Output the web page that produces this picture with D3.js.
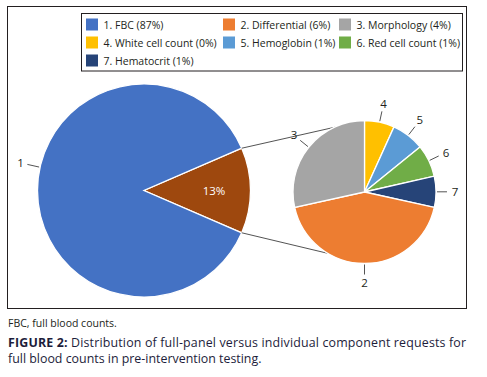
<!DOCTYPE html>
<html>
<head>
<meta charset="utf-8">
<script src="https://cdn.jsdelivr.net/npm/d3@7"></script>
<style>
  body { margin: 0; background: #fff; }
  svg { display: block; }
  text { font-family: "Open Sans", "Noto Sans", sans-serif; }
</style>
</head>
<body>
<svg id="chart" width="487" height="377"></svg>
<script>
// categories and values (share of all FBC requests, %)
var categories = ['FBC', 'Differential', 'Morphology', 'White cell count', 'Hemoglobin', 'Red cell count', 'Hematocrit']
var sliceLabels = ['1', '2', '3', '4', '5', '6', '7']
var legendPercents = ['87%', '6%', '4%', '0%', '1%', '1%', '1%']
var values = [87, 5.6, 3.7, 0.88, 0.96, 0.95, 0.91]
var colors = ['#4472C4', '#ED7D31', '#A5A5A5', '#FFC000', '#5B9BD5', '#70AD47', '#264478']
// order of the slices in the small pie, clockwise from 12 o'clock
var subOrder = [3, 4, 5, 6, 1, 2]
var otherLabel = '13%'
var otherColor = '#9E480E'

var svg = d3.select('#chart')

// outer frame
svg.append('rect')
  .attr('x', 7.5).attr('y', 6.5)
  .attr('width', 459).attr('height', 302)
  .attr('fill', 'none').attr('stroke', '#231f20').attr('stroke-width', 1)

// legend
var legend = svg.append('g').attr('class', 'legend')
legend.append('rect')
  .attr('x', 81.5).attr('y', 13.5)
  .attr('width', 381).attr('height', 57.5)
  .attr('fill', 'none').attr('stroke', '#231f20').attr('stroke-width', 1)

var colX = [86, 223, 339]
var items = legend.selectAll('.item')
  .data(categories.map(function(c, i){ return {name: c, i: i} }))
  .enter().append('g')
  .attr('class', 'item')
  .attr('transform', function(d){
    return 'translate(' + colX[d.i % 3] + ',' + (24.5 + Math.floor(d.i / 3) * 18) + ')'
  })
items.append('rect')
  .attr('x', 0).attr('y', -6).attr('width', 12).attr('height', 12)
  .attr('fill', function(d){ return colors[d.i] })
items.append('text')
  .attr('x', 17.5).attr('y', 4)
  .attr('font-size', 10.5).attr('fill', '#231f20')
  .text(function(d){ return sliceLabels[d.i] + '. ' + d.name + ' (' + legendPercents[d.i] + ')' })

// main pie: FBC vs the rest
var mainCx = 144, mainCy = 190.5, mainR = 106.5
var restTotal = d3.sum(subOrder, function(i){ return values[i] })
var total = values[0] + restTotal
var half = Math.PI * restTotal / total
var mainPie = d3.pie().sort(null).value(function(d){ return d.v })
  .startAngle(Math.PI / 2 - half).endAngle(Math.PI / 2 - half + 2 * Math.PI)
var mainArcs = mainPie([{v: restTotal, c: otherColor}, {v: values[0], c: colors[0]}])
var arcMain = d3.arc().innerRadius(0).outerRadius(mainR)

var gMain = svg.append('g').attr('transform', 'translate(' + mainCx + ',' + mainCy + ')')
gMain.selectAll('path').data(mainArcs).enter().append('path')
  .attr('d', arcMain)
  .attr('fill', function(d){ return d.data.c })
  .attr('stroke', '#fff').attr('stroke-width', 1.3)

// 13% label inside the split slice
var innerArc = d3.arc().innerRadius(70).outerRadius(70)
gMain.append('text')
  .attr('transform', 'translate(' + innerArc.centroid(mainArcs[0]) + ')')
  .attr('text-anchor', 'middle').attr('dy', '0.35em')
  .attr('font-size', 11.5).attr('fill', '#fff')
  .text(otherLabel)

// label "1" with its leader line
var a1 = (mainArcs[1].startAngle + mainArcs[1].endAngle) / 2 + 0.22
function polar(r, a){ return [r * Math.sin(a), -r * Math.cos(a)] }
gMain.append('line')
  .attr('x1', polar(mainR + 1, a1)[0]).attr('y1', polar(mainR + 1, a1)[1])
  .attr('x2', polar(mainR + 13, a1)[0]).attr('y2', polar(mainR + 13, a1)[1])
  .attr('stroke', '#404040').attr('stroke-width', 0.9)
gMain.append('text')
  .attr('x', polar(mainR + 20, a1)[0]).attr('y', polar(mainR + 20, a1)[1])
  .attr('text-anchor', 'middle').attr('dy', '0.35em')
  .attr('font-size', 11.5).attr('fill', '#231f20')
  .text(sliceLabels[0])

// secondary pie
var subCx = 364.5, subCy = 192, subR = 71.5
var subPie = d3.pie().sort(null).value(function(i){ return values[i] })
var subArcs = subPie(subOrder)
var arcSub = d3.arc().innerRadius(0).outerRadius(subR)

// connector lines from the split slice to the small pie
var topA = 0, botA = Math.PI * 1.172
svg.append('line')
  .attr('x1', mainCx + polar(mainR, mainArcs[0].startAngle)[0])
  .attr('y1', mainCy + polar(mainR, mainArcs[0].startAngle)[1])
  .attr('x2', subCx + polar(subR, topA)[0])
  .attr('y2', subCy + polar(subR, topA)[1])
  .attr('stroke', '#404040').attr('stroke-width', 0.9)
svg.append('line')
  .attr('x1', mainCx + polar(mainR, mainArcs[0].endAngle)[0])
  .attr('y1', mainCy + polar(mainR, mainArcs[0].endAngle)[1])
  .attr('x2', subCx + polar(subR, botA)[0])
  .attr('y2', subCy + polar(subR, botA)[1])
  .attr('stroke', '#404040').attr('stroke-width', 0.9)

var gSub = svg.append('g').attr('transform', 'translate(' + subCx + ',' + subCy + ')')
gSub.selectAll('path').data(subArcs).enter().append('path')
  .attr('d', arcSub)
  .attr('fill', function(d){ return colors[d.data] })
  .attr('stroke', '#fff').attr('stroke-width', 1.3)

var subLab = gSub.selectAll('.lab').data(subArcs).enter().append('g').attr('class', 'lab')
subLab.append('line')
  .attr('x1', function(d){ return polar(subR + 1, (d.startAngle + d.endAngle) / 2)[0] })
  .attr('y1', function(d){ return polar(subR + 1, (d.startAngle + d.endAngle) / 2)[1] })
  .attr('x2', function(d){ return polar(subR + 11, (d.startAngle + d.endAngle) / 2)[0] })
  .attr('y2', function(d){ return polar(subR + 11, (d.startAngle + d.endAngle) / 2)[1] })
  .attr('stroke', '#404040').attr('stroke-width', 0.9)
subLab.append('text')
  .attr('x', function(d){ return polar(subR + 19, (d.startAngle + d.endAngle) / 2)[0] })
  .attr('y', function(d){ return polar(subR + 19, (d.startAngle + d.endAngle) / 2)[1] })
  .attr('text-anchor', 'middle').attr('dy', '0.35em')
  .attr('font-size', 11.5).attr('fill', '#231f20')
  .text(function(d){ return sliceLabels[d.data] })

// footnote and caption
svg.append('text')
  .attr('x', 8).attr('y', 326.5)
  .attr('font-size', 10.5).attr('fill', '#231f20')
  .text('FBC, full blood counts.')

var cap1 = svg.append('text')
  .attr('x', 8).attr('y', 346.5)
  .attr('font-size', 12.4).attr('fill', '#1d1d3b')
  .attr('textLength', 458).attr('lengthAdjust', 'spacing')
cap1.append('tspan').attr('font-weight', 'bold').text('FIGURE 2:')
cap1.append('tspan').text(' Distribution of full-panel versus individual component requests for')

svg.append('text')
  .attr('x', 8).attr('y', 362.5)
  .attr('font-size', 12.4).attr('fill', '#1d1d3b')
  .text('full blood counts in pre-intervention testing.')
</script>
</body>
</html>
